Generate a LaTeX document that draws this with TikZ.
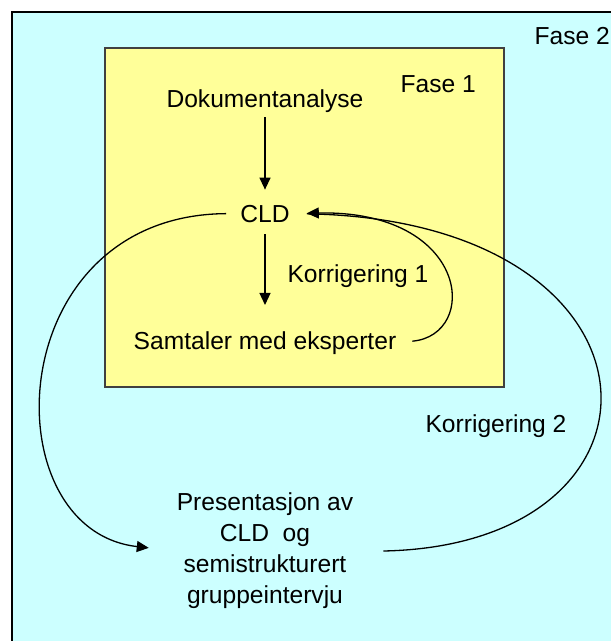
\documentclass[tikz,border=0pt]{standalone}
\usepackage{fontspec}
\setmainfont{Liberation Sans}
\usetikzlibrary{arrows.meta}

\definecolor{phaseTwo}{HTML}{CCFFFF}
\definecolor{phaseOne}{HTML}{FFFF99}
\definecolor{boxEdge}{HTML}{404040}

\tikzset{
  lbl/.style={inner sep=0pt, anchor=base, font=\fontsize{24.6}{31}\selectfont},
  link/.style={line width=1.3pt, -{Triangle[length=12pt, width=11pt]}},
  loop/.style={line width=1.3pt},
}

\begin{document}
\begin{tikzpicture}[x=1pt, y=-1pt]
  \useasboundingbox (0,0) rectangle (611,641);
  \clip (0,0) rectangle (611,641);

  % phase 2 frame (runs off the right and bottom edges)
  \draw[fill=phaseTwo, line width=2pt] (12,12) rectangle (640,670);
  % phase 1 box
  \draw[fill=phaseOne, draw=boxEdge, line width=1.5pt] (105,48) rectangle (504,387);

  % labels
  \node[lbl, anchor=base east] (fase2) at (610,44) {Fase 2};
  \node[lbl, anchor=base east] (fase1) at (476,92) {Fase 1};
  \node[lbl] (dok) at (265,107) {Dokumentanalyse};
  \node[lbl] (cld) at (265,222) {CLD};
  \node[lbl] (samt) at (265,349) {Samtaler med eksperter};
  \node[lbl] (k1) at (358,282) {Korrigering 1};
  \node[lbl] (k2) at (496,432) {Korrigering 2};
  \node[lbl, anchor=center, align=center] (pres) at (265,551)
    {Presentasjon av\\CLD\ \ og\\semistrukturert\\gruppeintervju};

  % straight steps
  \draw[link, shorten <=5pt, shorten >=15pt] (dok.south) -- (cld.north);
  \draw[link, shorten <=12pt, shorten >=26pt] (cld.south) -- (samt.north);

  % correction loops back to CLD
  \draw[loop, -{Triangle[length=12pt, width=11pt]}, shorten <=16pt, shorten >=17pt]
    (samt.east) .. controls (480,335) and (470,210) .. (cld.east);
  \draw[loop, shorten >=17pt]
    ([xshift=30pt]pres.east) .. controls (690,545) and (680,220) .. (cld.east);

  % CLD out to the presentation
  \draw[link, shorten <=14pt, shorten >=28pt]
    (cld.west) .. controls (0,215) and (-10,530) .. (pres.west);
\end{tikzpicture}
\end{document}
